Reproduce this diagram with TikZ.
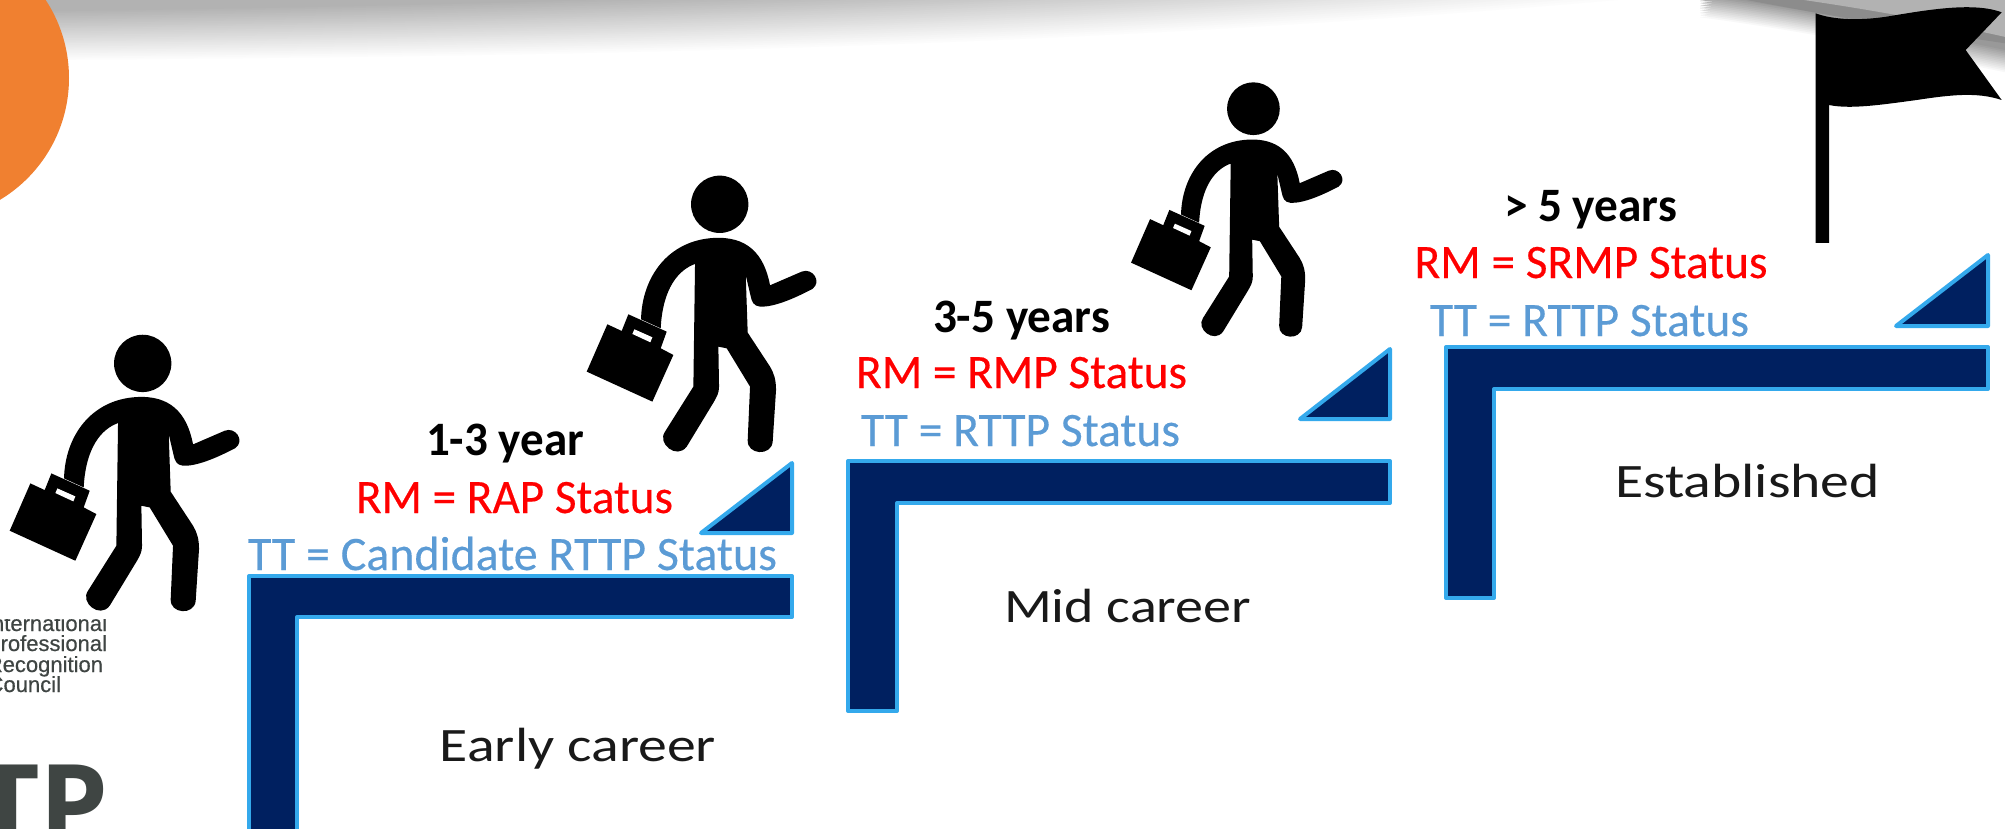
\documentclass[tikz,border=0pt]{standalone}
\usepackage{fontspec}
\usepackage{graphicx}
\setmainfont{Carlito}
\newfontfamily\logofont[FakeBold=0.5]{Liberation Sans}
\newfontfamily\bigfont{Open Sans}
\newfontfamily\thickfont[FakeBold=0.35]{Carlito}
\definecolor{navy}{HTML}{002060}
\definecolor{edgeblue}{HTML}{34A9EC}
\definecolor{ttblue}{HTML}{5B9BD5}
\definecolor{orangeblob}{HTML}{F08030}
\definecolor{logogray}{HTML}{3F4543}
\newcommand\fitw[2]{\resizebox{#1pt}{\height}{#2}}
\newcommand\walker[3]{%
  \begin{scope}[shift={(#1,#2)},scale=#3/3,shift={(-449,-133)}]
    \fill[black] (449,133) circle[radius=86];
    \fill[black] (375,312) .. controls (325,330) and (278,385) .. (272,505) -- (213,478)
      .. controls (216,350) and (295,242) .. (430,234)
      .. controls (530,228) and (582,280) .. (600,376) -- (695,335)
      .. controls (727,322) and (757,365) .. (727,387)
      .. controls (670,417) and (610,442) .. (570,440)
      .. controls (550,438) and (545,425) .. (541,405) -- (527,345) -- (533,518) -- (600,620)
      .. controls (612,640) and (618,660) .. (618,690) -- (608,845)
      .. controls (604,890) and (530,885) .. (533,840) -- (540,680) -- (470,565) -- (445,560) -- (447,680)
      .. controls (447,700) and (440,710) .. (432,725) -- (350,860)
      .. controls (320,900) and (260,850) .. (285,815) -- (370,680) -- cycle;
    \fill[black] (112,493) -- (155,513) -- (175,463) -- (290,515) -- (272,565) -- (310,585)
      -- (247,725) -- (50,635) -- cycle;
    \fill[white] (193,508) -- (247,532) -- (241,547) -- (187,522) -- cycle;
  \end{scope}}
\tikzset{
  stair/.style={fill=navy,draw=edgeblue,line width=4pt,line join=round},
  lbl/.style={anchor=base,inner sep=0pt,outer sep=0pt,font=\thickfont\fontsize{48}{52}\selectfont},
  yearlbl/.style={lbl,font=\fontsize{48}{52}\selectfont\bfseries,text=black},
  rmlbl/.style={lbl,text=red},
  ttlbl/.style={lbl,text=ttblue},
  stagelbl/.style={lbl,font=\fontsize{48}{52}\selectfont,text=black!90},
  logolbl/.style={anchor=base east,inner sep=0pt,outer sep=0pt,text=logogray,font=\logofont\fontsize{22}{22}\selectfont}
}
\begin{document}
\begin{tikzpicture}[x=1pt,y=-1pt]
\useasboundingbox (0,0) rectangle (2005,829);
\clip (0,0) rectangle (2005,829);
\fill[white] (0,0) rectangle (2005,829);
% grey fading band along the top
\foreach \t in {0,...,30}{
  \pgfmathsetmacro{\f}{\t/30}
  \pgfmathsetmacro{\c}{1-0.30*\f}
  \pgfmathsetmacro{\ya}{62-50*\f}
  \pgfmathsetmacro{\yb}{58-53*\f}
  \pgfmathsetmacro{\yc}{50-62*\f}
  \pgfmathsetmacro{\yd}{-5-55*\f}
  \pgfmathsetmacro{\xd}{1700-200*\f}
  \fill[fill={rgb,1:red,\c;green,\c;blue,\c}] (-5,-100) -- (-5,\ya)
    .. controls (600,\yb) and (1100,\yc) .. (\xd,\yd) -- (\xd,-100) -- cycle;
}
% corner band, top right
\foreach \t in {0,...,14}{
  \pgfmathsetmacro{\f}{\t/14}
  \pgfmathsetmacro{\c}{1-0.40*\f}
  \pgfmathsetmacro{\o}{24*(1-\f)}
  \fill[fill={rgb,1:red,\c;green,\c;blue,\c}] (1700,-5+\o) .. controls (1800,8+\o) and (1900,28+\o) .. (2010,51+\o) -- (2010,-5) -- cycle;
}
\fill[fill=black!45] (1736,-2) .. controls (1810,12) and (1900,28) .. (2010,44) -- (2010,-5) -- cycle;
\fill[fill=black!30] (1790,-2) .. controls (1860,8) and (1930,20) .. (2010,38) -- (2010,-5) -- cycle;
% orange disc
\fill[orangeblob] (-73,78) circle[radius=142];
% logo
\node[logolbl] (logoa) at (107,631) {International};
\node[logolbl] (logob) at (107,651) {Professional};
\node[logolbl] (logoc) at (103,672) {Recognition};
\node[logolbl] (logod) at (61,692) {Council};
\fill[white] (0,595) rectangle (120,619);
\node[anchor=base east,inner sep=0pt,text=logogray,font=\bigfont\bfseries\fontsize{110}{110}\selectfont] (tp) at (109,843) {TP};
% stairs
\draw[stair] (249,835) -- (249,576) -- (792,576) -- (792,617) -- (297,617) -- (297,835) -- cycle;
\draw[stair] (848,711) -- (848,461) -- (1390,461) -- (1390,503) -- (897,503) -- (897,711) -- cycle;
\draw[stair] (1446,598) -- (1446,347) -- (1988,347) -- (1988,389) -- (1494,389) -- (1494,598) -- cycle;
% triangles
\draw[stair] (701,533) -- (792,463) -- (792,533) -- cycle;
\draw[stair] (1300,419) -- (1390,349) -- (1390,419) -- cycle;
\draw[stair] (1896,326) -- (1988,255) -- (1988,326) -- cycle;
% walkers
\walker{142.7}{363.4}{1}
\walker{719.7}{204.3}{1}
\walker{1253.4}{108.7}{0.92}
% flag
\begin{scope}[shift={(1700,0)},scale=1/3]
  \fill[black] (347,729) -- (347,40) .. controls (400,60) and (480,62) .. (560,50)
    .. controls (680,30) and (820,5) .. (905,37) -- (797,150) -- (905,300)
    .. controls (830,275) and (750,285) .. (650,300)
    .. controls (540,315) and (450,328) .. (387,315) -- (387,729) -- cycle;
\end{scope}
% step 1 texts
\node[yearlbl] (y1) at (505,455) {\fitw{158}{1-3 year}};
\node[rmlbl] (r1) at (514.5,513) {\fitw{317}{RM = RAP Status}};
\node[ttlbl] (t1) at (512.5,570) {\fitw{529}{TT = Candidate RTTP Status}};
\node[stagelbl] (s1) at (578,761) {\fitw{276}{Early career}};
% step 2 texts
\node[yearlbl] (y2) at (1021.5,332) {\fitw{177}{3-5 years}};
\node[rmlbl] (r2) at (1021.5,388) {\fitw{331}{RM = RMP Status}};
\node[ttlbl] (t2) at (1020.5,446) {\fitw{319}{TT = RTTP Status}};
\node[stagelbl] (s2) at (1127.5,622) {\fitw{247}{Mid career}};
% step 3 texts
\node[yearlbl] (y3) at (1590.5,222) {\fitw{173}{> 5 years}};
\node[rmlbl] (r3) at (1591,278) {\fitw{353}{RM = SRMP Status}};
\node[ttlbl] (t3) at (1589.5,336) {\fitw{319}{TT = RTTP Status}};
\node[stagelbl] (s3) at (1747.5,497) {\fitw{265}{Established}};
\end{tikzpicture}
\end{document}
